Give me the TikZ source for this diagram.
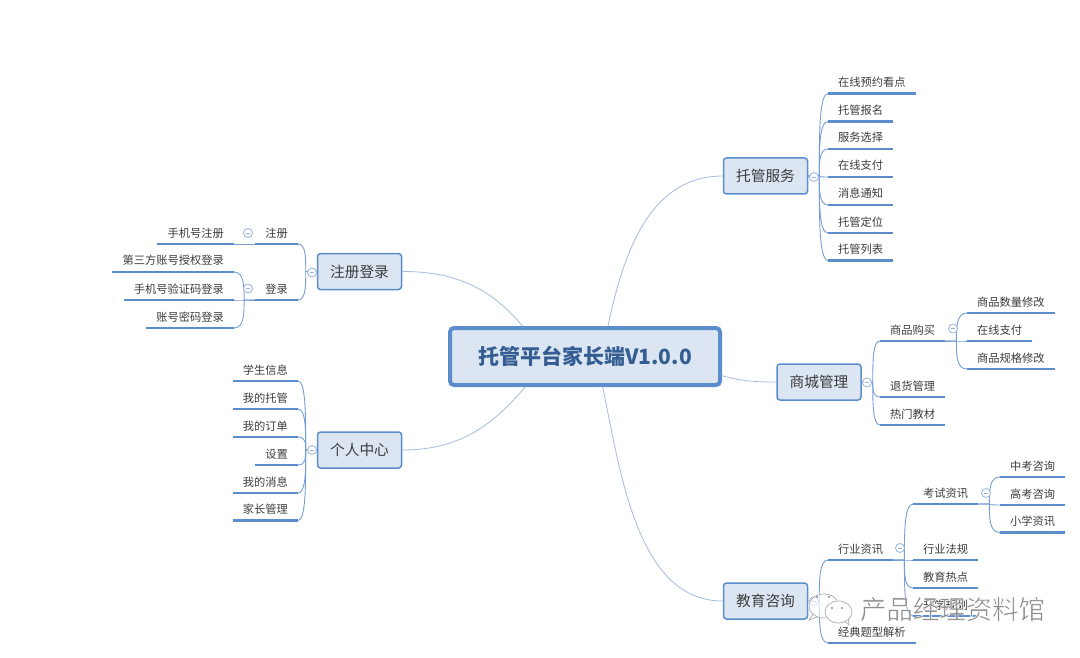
\documentclass[tikz,border=0pt]{standalone}
\usepackage{fontspec}
\setmainfont{Noto Sans CJK SC}
\usetikzlibrary{calc}
\definecolor{boxfill}{RGB}{220,230,243}
\definecolor{boxline}{RGB}{91,141,205}
\definecolor{rootink}{RGB}{52,94,146}
\definecolor{textink}{RGB}{60,60,60}
\definecolor{mainline}{RGB}{166,186,220}
\definecolor{hubline}{RGB}{150,178,220}
\definecolor{markgray}{RGB}{140,140,140}
\newcommand{\halotext}[1]{\special{pdf:code 1 1 1 RG 0.5 w 2 Tr}#1\special{pdf:code 0 Tr}}

\begin{document}
\begin{tikzpicture}[x=1pt, y=-1pt,
  rootbox/.style={draw=boxline, line width=4pt, rounded corners=4pt, fill=boxfill, text=rootink,
              font=\fontsize{21}{24}\selectfont\bfseries, minimum width=270pt, minimum height=57pt},
  topic/.style={draw=boxline, line width=1.5pt, rounded corners=3pt, fill=boxfill, text=textink,
              font=\fontsize{14.7}{17}\selectfont, minimum width=84pt, minimum height=36pt},
  leaf/.style={inner xsep=10pt, inner ysep=3pt, text height=9pt, text depth=3.8pt, text=textink,
              font=\fontsize{11.25}{13}\selectfont},
  leafr/.style={leaf, anchor=south west},
  leafl/.style={leaf, anchor=south east},
  hub/.style={circle, draw=hubline, fill=white, line width=.8pt, minimum size=9pt, inner sep=0pt,
              path picture={\draw[hubline, line width=.8pt] ($(path picture bounding box.center)+(-2.4,0)$) -- ($(path picture bounding box.center)+(2.4,0)$);}},
  under/.style={draw=boxline, line width=2.1pt},
  stem/.style={draw=boxline!85, line width=.9pt},
  main/.style={draw=mainline, line width=.8pt},
  branch/.style={stem, line join=round, to path={-- ($(\tikztostart)+(#1,0)$)
      .. controls ($(\tikztostart)!.5!(\tikztostart |- \tikztotarget)+(#1,0)$) and ($(\tikztostart |- \tikztotarget)+(#1,0)$) .. (\tikztotarget)}},
  branch/.default=11]
  \useasboundingbox (0,0) rectangle (1080,658);

  \node[rootbox] (root) at (585,356.5) {托管平台家长端V1.0.0};
  \node[topic] (care) at (765.5,176) {托管服务};
  \node[topic] (sign) at (359.5,271.5) {注册登录};
  \node[topic] (self) at (359.5,450) {个人中心};
  \node[topic] (shop) at (819,382) {商城管理};
  \node[topic] (edu) at (765.5,601) {教育咨询};

  \draw[main] (root.53) to[out=78, in=180] (care.west);
  \draw[main] (root.154) to[out=130, in=0] (sign.east);
  \draw[main] (root.207) to[out=-130, in=0] (self.east);
  \draw[main] (root.-8) to[out=-15, in=180] (shop.west);
  \draw[main] (root.-60) to[out=-78, in=180, looseness=.9] (edu.west);

  \foreach \n/\y/\t in {c1/93.5/在线预约看点, c2/121.5/托管报名, c3/149/服务选择, c4/177/在线支付,
                        c5/205/消息通知, c6/233/托管定位, c7/260.5/托管列表} {
    \node[leafr] (\n) at (828,\y) {\t};
    \draw[branch] (care.east) to (\n.south west);
    \draw[under] (\n.south west) -- (\n.south east);
  }

  \node[leafl] (reg) at (298,244) {注册};
  \node[leafl] (log) at (298,300) {登录};
  \node[leafl] (reg1) at (234,244) {手机号注册};
  \node[leafl] (log1) at (234,272) {第三方账号授权登录};
  \node[leafl] (log2) at (234,300) {手机号验证码登录};
  \node[leafl] (log3) at (234,328) {账号密码登录};
  \draw[branch=-11] (sign.west) to (reg.south east);
  \draw[branch=-11] (sign.west) to (log.south east);
  \draw[stem] (reg.south west) -- (reg1.south east);
  \foreach \n in {log1,log2,log3} \draw[branch=-11] (log.south west) to (\n.south east);
  \foreach \n in {reg,log,reg1,log1,log2,log3} \draw[under] (\n.south west) -- (\n.south east);

  \foreach \n/\y/\t in {p1/381/学生信息, p2/409/我的托管, p3/437/我的订单, p4/465/设置,
                        p5/493/我的消息, p6/520.5/家长管理} {
    \node[leafl] (\n) at (298,\y) {\t};
    \draw[branch=-11] (self.west) to (\n.south east);
    \draw[under] (\n.south west) -- (\n.south east);
  }

  \node[leafr] (buy) at (880,341) {商品购买};
  \node[leafr] (back) at (880,397) {退货管理};
  \node[leafr] (book) at (880,425) {热门教材};
  \foreach \n in {buy,back,book} {
    \draw[branch] (shop.east) to (\n.south west);
    \draw[under] (\n.south west) -- (\n.south east);
  }
  \foreach \n/\y/\t in {b1/313/商品数量修改, b2/341/在线支付, b3/369/商品规格修改} {
    \node[leafr] (\n) at (967,\y) {\t};
    \draw[branch] (buy.south east) to (\n.south west);
    \draw[under] (\n.south west) -- (\n.south east);
  }

  \node[leafr] (news) at (828,560) {行业资讯};
  \node[leafr] (exam) at (828,643) {经典题型解析};
  \foreach \n in {news,exam} {
    \draw[branch] (edu.east) to (\n.south west);
    \draw[under] (\n.south west) -- (\n.south east);
  }
  \foreach \n/\y/\t in {n1/504/考试资讯, n2/560/行业法规, n3/588/教育热点, n4/616/升学规划} {
    \node[leafr] (\n) at (913,\y) {\t};
    \draw[branch] (news.south east) to (\n.south west);
    \draw[under] (\n.south west) -- (\n.south east);
  }
  \foreach \n/\y/\t in {e1/477/中考咨询, e2/505/高考咨询, e3/532.5/小学资讯} {
    \node[leafr] (\n) at (1000,\y) {\t};
    \draw[branch] (n1.south east) to (\n.south west);
    \draw[under] (\n.south west) -- (\n.south east);
  }

  \node[hub] (hcare) at (814,177) {};
  \node[hub] (hsign) at (312,272.5) {};
  \node[hub] (hself) at (312,450) {};
  \node[hub] (hshop) at (867,382.5) {};
  \node[hub] (hedu) at (814,601) {};
  \node[hub] (hreg) at (248,233) {};
  \node[hub] (hlog) at (248,288.5) {};
  \node[hub] (hbuy) at (953,328.5) {};
  \node[hub] (hnews) at (900,548) {};
  \node[hub] (hexam) at (986,493) {};

  \draw[draw=white, line width=1.6pt, fill=white, fill opacity=.6] (824,606) ellipse (15 and 12);
  \draw[markgray!75, line width=.7pt] (824,606) ellipse (15 and 12);
  \draw[markgray!75, line width=.7pt] (813,614) -- (809,620) -- (817,617);
  \draw[draw=white, line width=1.6pt, fill=white] (838.5,612) ellipse (13.5 and 11);
  \draw[markgray!75, line width=.7pt] (838.5,612) ellipse (13.5 and 11);
  \draw[markgray!75, line width=.7pt] (845,621.5) -- (849,625) -- (848.5,620);
  \foreach \p in {(817,597),(829,597),(832,608),(842,608)} \fill[markgray] \p circle (1.1);
  \node[text=markgray, font=\fontsize{26.4}{30}\selectfont, inner sep=0pt] (mark) at (952.5,609) {\halotext{产品经理资料馆}};
\end{tikzpicture}
\end{document}
